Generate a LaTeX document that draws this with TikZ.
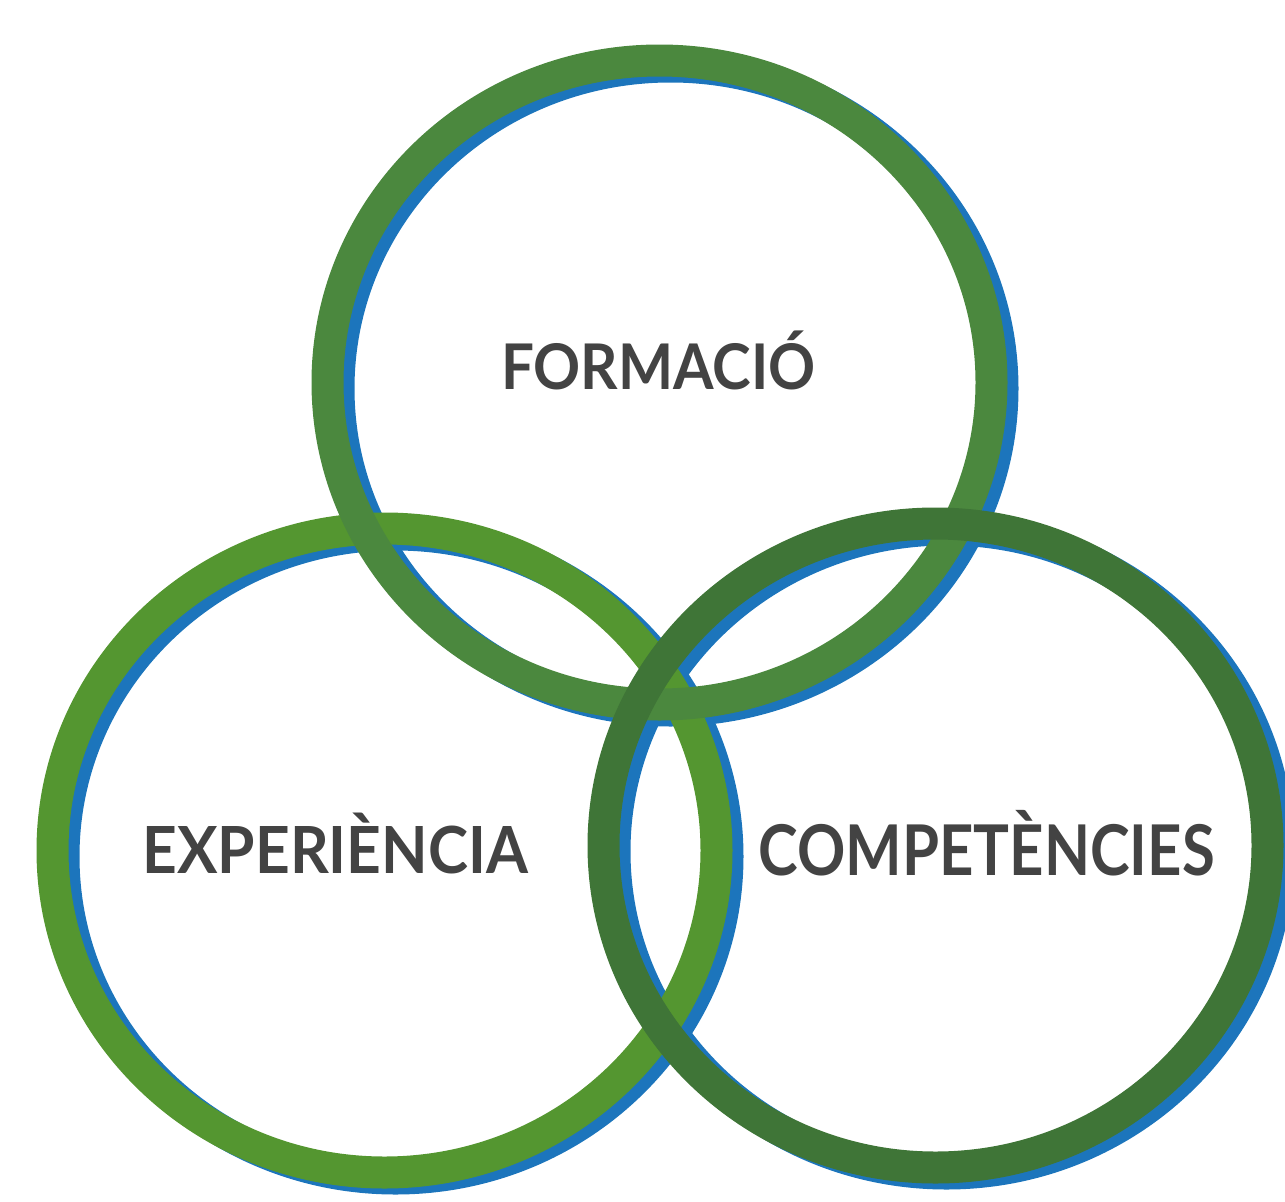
\documentclass[tikz,border=0pt]{standalone}
\usepackage{graphicx}
\usepackage{fontspec}
\setmainfont{Lato}
\definecolor{blau}{RGB}{28,117,188}
\definecolor{verdF}{RGB}{75,136,62}
\definecolor{verdE}{RGB}{84,150,48}
\definecolor{verdC}{RGB}{63,117,55}
\definecolor{gris}{RGB}{67,67,67}
\tikzset{
  anell/.style={line width=32pt},
  etiqueta/.style={anchor=base, text=gris, font=\bfseries, inner sep=0pt}
}
\begin{document}
\begin{tikzpicture}[x=1pt,y=-1pt]
      \useasboundingbox (0,0) rectangle (1285,1202);
      \draw
        (659.5,382.5) coordinate (F)
        (384.5,850.5) coordinate (E)
        (935.5,845.5) coordinate (C);
      \begin{scope}[anell, blau]
        \draw ([shift={(11,6)}]F) ellipse [x radius=332pt, y radius=322pt];
        \draw ([shift={(11,6)}]E) ellipse [x radius=332pt, y radius=322pt];
        \draw ([shift={(11,6)}]C) ellipse [x radius=332pt, y radius=322pt];
      \end{scope}
      \begin{scope}[anell]
        \draw[verdE] (E) ellipse [x radius=332pt, y radius=322pt];
        \draw[verdF] (F) ellipse [x radius=332pt, y radius=322pt];
        \draw[verdC] (C) ellipse [x radius=332pt, y radius=322pt];
      \end{scope}
      \draw
        (658.5,389.3) node[etiqueta] (formacio) {\scalebox{0.926}[1]{\fontsize{63}{70}\selectfont FORMACIÓ}}
        (335.3,873.3) node[etiqueta] (experiencia) {\scalebox{0.93}[1]{\fontsize{65}{72}\selectfont EXPERIÈNCIA}}
        (986.7,875) node[etiqueta] (competencies) {\scalebox{0.855}[1]{\fontsize{70}{80}\selectfont COMPETÈNCIES}};
    \end{tikzpicture}
\end{document}
